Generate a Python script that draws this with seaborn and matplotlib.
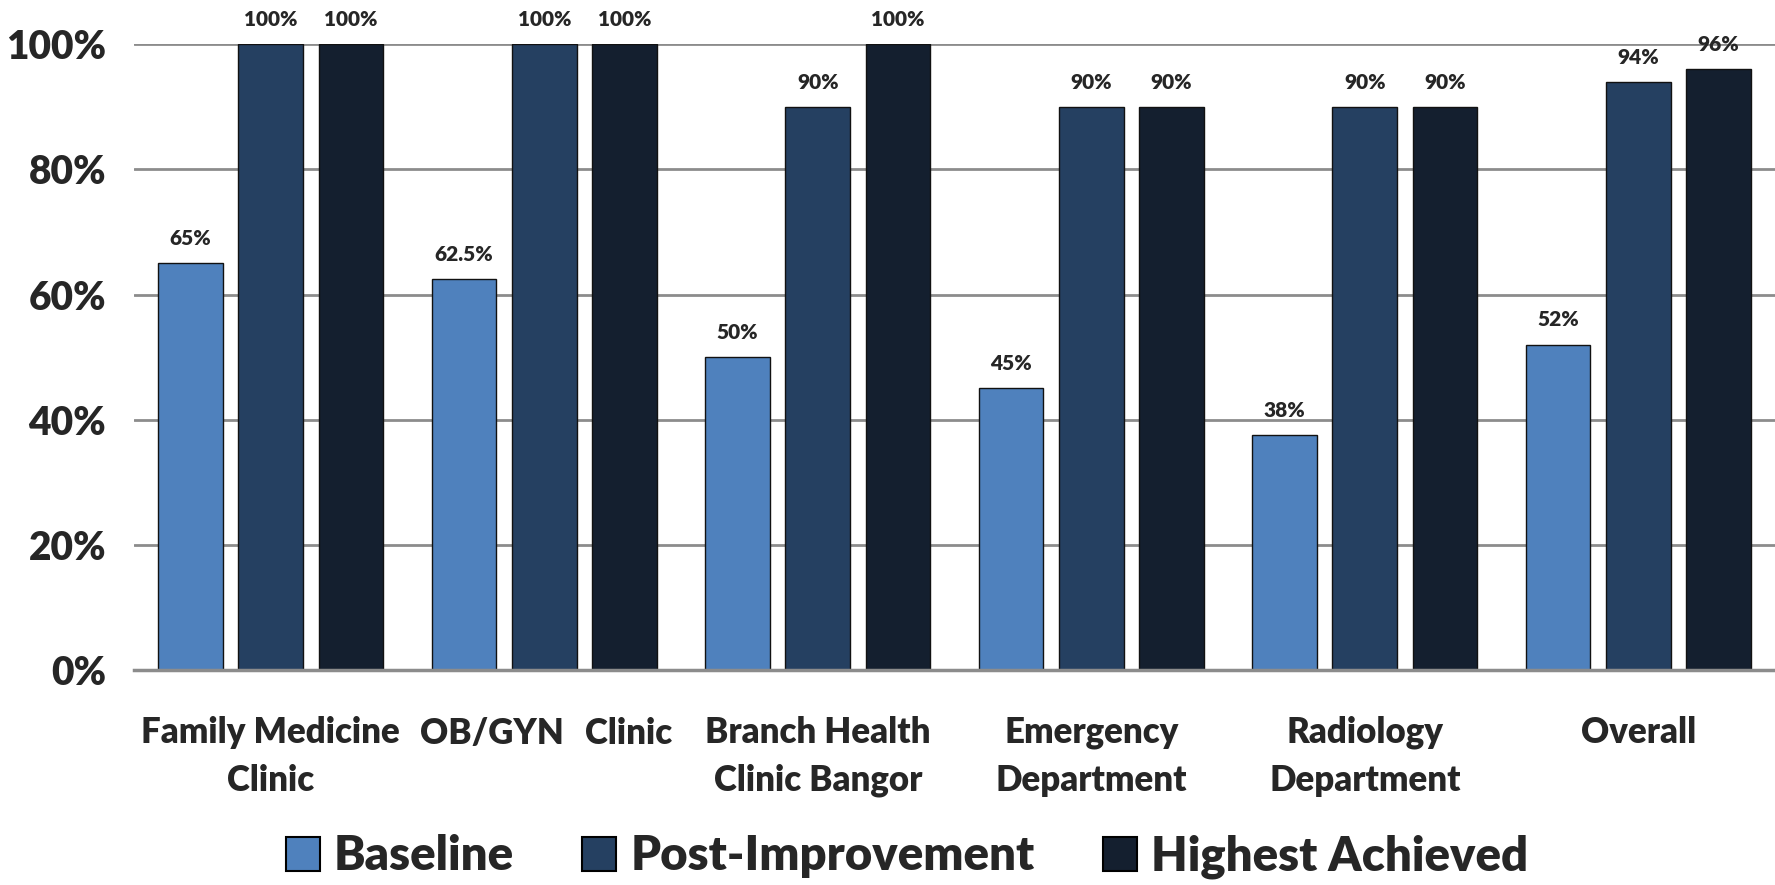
import matplotlib
matplotlib.use("Agg")
import matplotlib.pyplot as plt
import numpy as np
import pandas as pd
import seaborn as sns

# chart data
categories = ["Family Medicine\nClinic", "OB/GYN Clinic", "Branch Health\nClinic Bangor",
              "Emergency\nDepartment", "Radiology\nDepartment", "Overall"]
series = ["Baseline", "Post-Improvement", "Highest Achieved"]
baseline = [65, 62.5, 50, 45, 37.5, 52]
post_improvement = [100, 100, 90, 90, 90, 94]
highest = [100, 100, 100, 90, 90, 96]
baseline_labels = ["65%", "62.5%", "50%", "45%", "38%", "52%"]
post_labels = ["100%", "100%", "90%", "90%", "90%", "94%"]
highest_labels = ["100%", "100%", "100%", "90%", "90%", "96%"]
y_ticks = [0, 20, 40, 60, 80, 100]

colors = ["#4F81BD", "#254061", "#141F2F"]

df = pd.DataFrame({
    "category": categories * 3,
    "series": np.repeat(series, len(categories)),
    "value": baseline + post_improvement + highest,
})

sns.set_style("white")
plt.rcParams["font.family"] = ["Lato", "DejaVu Sans"]
plt.rcParams["font.weight"] = "bold"

fig = plt.figure(figsize=(17.75, 8.85), dpi=100)
ax = fig.add_axes([0.0755, 0.243, 0.9245, 0.707])

sns.barplot(data=df, x="category", y="value", hue="series", palette=colors,
            saturation=1, width=0.882, gap=0.197, edgecolor="#111111", linewidth=1.0,
            ax=ax, legend=True)

ax.set_ylim(0, 100)
ax.set_xlim(-0.5, 5.5)
ax.set_yticks(y_ticks)
ax.set_yticklabels([f"{t}%" for t in y_ticks], fontsize=28, fontweight="heavy")
ax.yaxis.grid(True, color="#8c8c8c", linewidth=2)
ax.set_axisbelow(True)
ax.tick_params(axis="y", length=0, pad=20)
ax.tick_params(axis="x", length=0, pad=33)
for s in ["top", "left", "right"]:
    ax.spines[s].set_visible(False)
ax.spines["bottom"].set_color("#8c8c8c")
ax.spines["bottom"].set_linewidth(2.5)
ax.set_xlabel("")
ax.set_ylabel("")

xlabels = [c if c != "OB/GYN Clinic" else "" for c in categories]
ax.set_xticks(range(len(categories)))
ax.set_xticklabels(xlabels, fontsize=25, fontweight="heavy", linespacing=1.55, va="top")
# the OB/GYN label is split across the group in the original
for x, word in [(0.81, "OB/GYN"), (1.31, "Clinic")]:
    ax.text(x, -0.0755, word, transform=ax.get_xaxis_transform(), ha="center", va="top",
            fontsize=25, fontweight="heavy")

for cont, labs in zip(ax.containers, [baseline_labels, post_labels, highest_labels]):
    txts = ax.bar_label(cont, labels=labs, padding=11, fontsize=15, fontweight="heavy")
    for t in txts:
        t.set_clip_on(False)

handles, _ = ax.get_legend_handles_labels()
ax.legend_.remove()
for h in handles:
    h.set_edgecolor("#000000")
    h.set_linewidth(1.5)
fig.legend(handles, series, loc="center", bbox_to_anchor=(0.511, 0.032), ncol=3,
           frameon=False, handlelength=0.72, handleheight=0.72,
           handletextpad=0.3, columnspacing=1.45, prop={"weight": "heavy", "size": 34})

fig.savefig("out.png", dpi=100)
